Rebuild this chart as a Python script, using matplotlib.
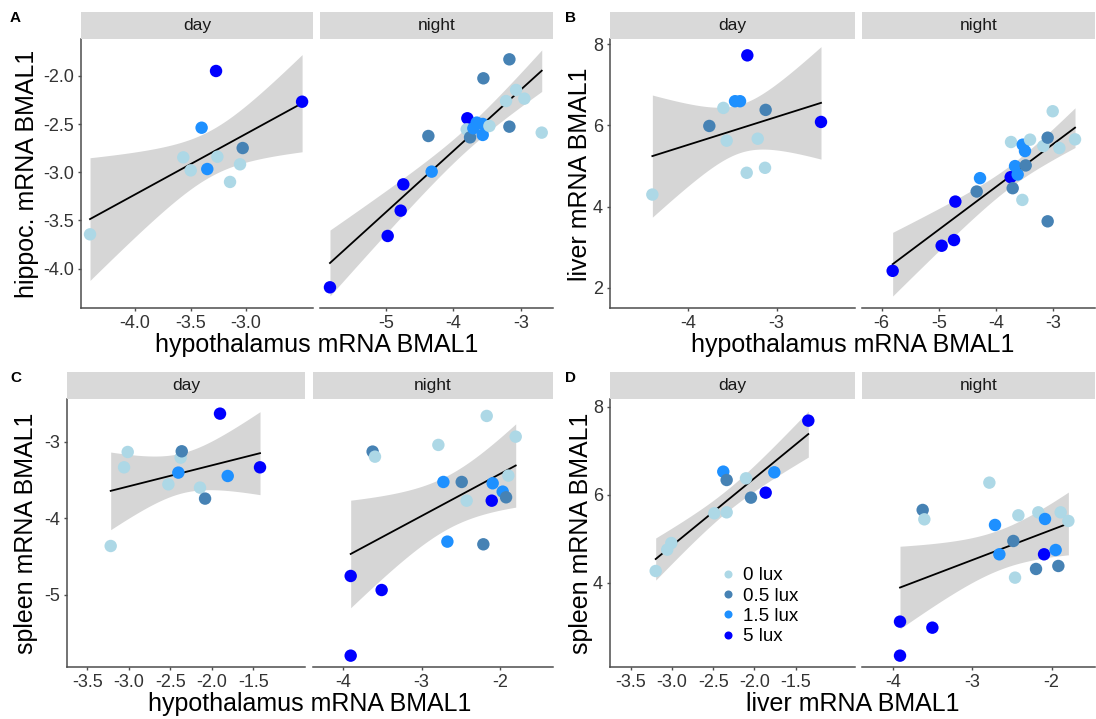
import math
import matplotlib
matplotlib.use('Agg')
import matplotlib.pyplot as plt
from matplotlib.lines import Line2D
import numpy as np

plt.rcParams['font.family'] = ['Liberation Sans', 'DejaVu Sans']

# light levels and their colours
lux_values = [0, 0.5, 1.5, 5]
lux_labels = ['0 lux', '0.5 lux', '1.5 lux', '5 lux']
lux_colors = {0: '#ADD8E6', 0.5: '#4682B4', 1.5: '#1E90FF', 5: '#0000FF'}

# ---- panel A: hypothalamus vs hippocampus ----
a_day_x = [-4.405, -3.565, -3.498, -3.40, -3.349, -3.27, -3.258, -3.144, -3.054, -3.03, -2.495]
a_day_y = [-3.644, -2.845, -2.98, -2.537, -2.966, -1.948, -2.838, -3.10, -2.917, -2.748, -2.267]
a_day_lux = [0, 0, 0, 1.5, 1.5, 5, 0, 0, 0, 0.5, 5]

a_night_x = [-5.832, -4.975, -4.782, -4.743, -4.322, -4.371, -3.792, -3.802, -3.752, -3.703, -3.653,
             -3.564, -3.564, -3.465, -3.554, -3.168, -3.168, -3.218, -3.069, -2.946, -2.688]
a_night_y = [-4.194, -3.661, -3.398, -3.125, -2.993, -2.623, -2.439, -2.554, -2.637, -2.543, -2.484,
             -2.498, -2.612, -2.519, -2.024, -1.827, -2.526, -2.26, -2.145, -2.235, -2.588]
a_night_lux = [5, 5, 5, 5, 1.5, 0.5, 5, 0, 0.5, 1.5, 1.5, 1.5, 1.5, 0, 0.5, 0.5, 0.5, 0, 0, 0, 0]

# ---- panel B: hypothalamus vs liver ----
b_day_x = [-4.397, -3.757, -3.599, -3.562, -3.468, -3.412, -3.337, -3.33, -3.213, -3.131, -3.124, -2.502]
b_day_y = [4.295, 5.987, 6.432, 5.624, 6.597, 6.597, 4.832, 7.728, 5.673, 4.955, 6.383, 6.086]
b_day_lux = [0, 0.5, 0, 0, 1.5, 1.5, 0, 5, 0, 0, 0.5, 5]

b_night_x = [-5.808, -4.952, -4.736, -4.713, -4.34, -4.282, -3.74, -3.746, -3.711, -3.67, -3.624,
             -3.542, -3.536, -3.496, -3.484, -3.408, -3.175, -3.1, -3.1, -3.012, -2.896, -2.622]
b_night_y = [2.414, 3.033, 3.173, 4.122, 4.37, 4.70, 5.591, 4.724, 4.452, 4.997, 4.79,
             4.163, 5.525, 5.368, 5.013, 5.649, 5.492, 5.698, 3.635, 6.35, 5.442, 5.657]
b_night_lux = [5, 5, 5, 5, 0.5, 1.5, 0, 5, 0.5, 1.5, 1.5, 0, 1.5, 1.5, 0.5, 0, 0, 0.5, 0.5, 0, 0, 0]

# ---- panel C: hypothalamus vs spleen ----
c_day_x = [-3.219, -3.058, -3.014, -2.524, -2.376, -2.363, -2.404, -2.143, -2.082, -1.902, -1.809, -1.42]
c_day_y = [-4.361, -3.335, -3.135, -3.557, -3.209, -3.126, -3.404, -3.6, -3.743, -2.635, -3.448, -3.335]
c_day_lux = [0, 0, 0, 0, 0, 0.5, 1.5, 0, 0.5, 5, 1.5, 5]

c_night_x = [-3.906, -3.906, -3.511, -3.626, -3.596, -2.787, -2.723, -2.672, -2.489, -2.426, -2.213,
             -2.17, -2.106, -2.094, -1.966, -1.923, -1.894, -1.8]
c_night_y = [-5.791, -4.752, -4.935, -3.13, -3.196, -3.043, -3.526, -4.304, -3.526, -3.77, -4.339,
             -2.665, -3.77, -3.543, -3.652, -3.726, -3.443, -2.935]
c_night_lux = [5, 5, 5, 0.5, 0, 0, 1.5, 1.5, 0.5, 0, 0.5, 0, 5, 1.5, 1.5, 0.5, 0, 0]

# ---- panel D: liver vs spleen ----
d_day_x = [-3.2, -3.06, -3.01, -2.488, -2.338, -2.379, -2.338, -2.103, -2.043, -1.864, -1.759, -1.346]
d_day_y = [4.265, 4.75, 4.9, 5.576, 5.598, 6.523, 6.333, 6.371, 5.932, 6.045, 6.508, 7.682]
d_day_lux = [0, 0, 0, 0, 0, 1.5, 0.5, 0, 0.5, 5, 1.5, 5]

d_night_x = [-3.908, -3.908, -3.501, -3.623, -3.602, -2.784, -2.713, -2.658, -2.482, -2.419, -2.461,
             -2.197, -2.168, -2.084, -2.096, -1.95, -1.916, -1.887, -1.79]
d_night_y = [2.341, 3.114, 2.977, 5.652, 5.439, 6.273, 5.311, 4.644, 4.947, 5.53, 4.114,
             4.311, 5.598, 5.447, 4.644, 4.742, 4.379, 5.598, 5.402]
d_night_lux = [5, 5, 5, 0.5, 0, 0, 1.5, 1.5, 0.5, 0, 0, 0.5, 0, 1.5, 5, 1.5, 0.5, 0, 0]


W, H = 1096, 719
fig = plt.figure(figsize=(W / 100, H / 100), dpi=100)
fig.patch.set_facecolor('white')

AX_COL = '#4d4d4d'
TXT_COL = '#333333'


def px_axes(x0, x1, ytop, ybot):
    return fig.add_axes([x0 / W, 1 - ybot / H, (x1 - x0) / W, (ybot - ytop) / H])


def t_quantile(p, df):
    c = math.gamma((df + 1) / 2) / (math.sqrt(df * math.pi) * math.gamma(df / 2))

    def cdf(t):
        xs = np.linspace(0, t, 2001)
        return 0.5 + np.trapezoid(c * (1 + xs ** 2 / df) ** (-(df + 1) / 2), xs)

    lo, hi = 0.0, 30.0
    for _ in range(60):
        mid = (lo + hi) / 2
        if cdf(mid) < p:
            lo = mid
        else:
            hi = mid
    return (lo + hi) / 2


def draw_facet(ax, xs, ys, lux, xlim, ylim, xticks, yticks, xfmt, yfmt, show_y):
    xs = np.array(xs)
    ys = np.array(ys)
    # linear fit with 95% confidence band
    n = len(xs)
    b, a = np.polyfit(xs, ys, 1)
    resid = ys - (a + b * xs)
    s = np.sqrt(np.sum(resid ** 2) / (n - 2))
    sxx = np.sum((xs - xs.mean()) ** 2)
    xf = np.linspace(xs.min(), xs.max(), 80)
    yf = a + b * xf
    se = s * np.sqrt(1 / n + (xf - xs.mean()) ** 2 / sxx)
    tq = t_quantile(0.975, n - 2)
    ax.fill_between(xf, yf - tq * se, yf + tq * se, color='#d6d6d6', lw=0, zorder=1)
    ax.plot(xf, yf, color='black', lw=1.3, zorder=2)
    ax.scatter(xs, ys, c=[lux_colors[l] for l in lux], s=80, lw=0, zorder=3)

    ax.set_xlim(*xlim)
    ax.set_ylim(*ylim)
    ax.set_xticks(xticks)
    ax.set_xticklabels([xfmt.format(v) for v in xticks])
    ax.set_yticks(yticks)
    ax.set_yticklabels([yfmt.format(v) for v in yticks])
    for sp in ['top', 'right']:
        ax.spines[sp].set_visible(False)
    ax.spines['bottom'].set_color(AX_COL)
    ax.spines['bottom'].set_linewidth(1.1)
    ax.spines['left'].set_color(AX_COL)
    ax.spines['left'].set_linewidth(1.1)
    ax.tick_params(axis='both', labelsize=13, colors=AX_COL, labelcolor=TXT_COL,
                   length=2, width=1, pad=3)
    if not show_y:
        ax.spines['left'].set_visible(False)
        ax.tick_params(axis='y', left=False, labelleft=False)


def draw_strip(x0, x1, ytop, ybot, label):
    sax = px_axes(x0, x1, ytop, ybot)
    sax.set_facecolor('#d9d9d9')
    for sp in sax.spines.values():
        sp.set_visible(False)
    sax.set_xticks([])
    sax.set_yticks([])
    sax.text(0.5, 0.5, label, ha='center', va='center', fontsize=12.5,
             color='#1a1a1a', transform=sax.transAxes)


# panel layout in pixels
top_row = (39.3, 308.3)
bot_row = (399.3, 667.3)
strip_h = 27.6

panels = [
    dict(letter='A', row=top_row, dx=(80.7, 313.3), nx=(320, 552.7),
         day=(a_day_x, a_day_y, a_day_lux), night=(a_night_x, a_night_y, a_night_lux),
         dxlim=(-4.489, -2.394), nxlim=(-5.98, -2.525), ylim=(-4.412, -1.619),
         dxt=[-4.0, -3.5, -3.0], nxt=[-5, -4, -3], yt=[-4.0, -3.5, -3.0, -2.5, -2.0],
         dfmt='{:.1f}', nfmt='{:.0f}', yfmt='{:.1f}',
         xlabel='hypothalamus mRNA BMAL1', ylabel='hippoc. mRNA BMAL1',
         letter_xy=(15, 18), ylab_x=27),
    dict(letter='B', row=top_row, dx=(610, 855), nx=(861.7, 1095),
         day=(b_day_x, b_day_y, b_day_lux), night=(b_night_x, b_night_y, b_night_lux),
         dxlim=(-4.873, -2.12), nxlim=(-6.349, -2.273), ylim=(1.49, 8.124),
         dxt=[-4, -3], nxt=[-6, -5, -4, -3], yt=[2, 4, 6, 8],
         dfmt='{:.0f}', nfmt='{:.0f}', yfmt='{:.0f}',
         xlabel='hypothalamus mRNA BMAL1', ylabel='liver mRNA BMAL1',
         letter_xy=(571, 18), ylab_x=580),
    dict(letter='C', row=bot_row, dx=(66.7, 305), nx=(313.3, 552.7),
         day=(c_day_x, c_day_y, c_day_lux), night=(c_night_x, c_night_y, c_night_lux),
         dxlim=(-3.749, -0.878), nxlim=(-4.383, -1.328), ylim=(-5.943, -2.448),
         dxt=[-3.5, -3.0, -2.5, -2.0, -1.5], nxt=[-4, -3, -2], yt=[-5, -4, -3],
         dfmt='{:.1f}', nfmt='{:.0f}', yfmt='{:.0f}',
         xlabel='hypothalamus mRNA BMAL1', ylabel='spleen mRNA BMAL1',
         letter_xy=(16, 378), ylab_x=26),
    dict(letter='D', row=bot_row, dx=(610, 855), nx=(861.7, 1095),
         day=(d_day_x, d_day_y, d_day_lux), night=(d_night_x, d_night_y, d_night_lux),
         dxlim=(-3.755, -0.779), nxlim=(-4.39, -1.455), ylim=(2.076, 8.167),
         dxt=[-3.5, -3.0, -2.5, -2.0, -1.5], nxt=[-4, -3, -2], yt=[4, 6, 8],
         dfmt='{:.1f}', nfmt='{:.0f}', yfmt='{:.0f}',
         xlabel='liver mRNA BMAL1', ylabel='spleen mRNA BMAL1',
         letter_xy=(571, 378), ylab_x=581),
]

legend_ax = None
for p in panels:
    ytop, ybot = p['row']
    ax_d = px_axes(p['dx'][0], p['dx'][1], ytop, ybot)
    draw_facet(ax_d, *p['day'], p['dxlim'], p['ylim'], p['dxt'], p['yt'],
               p['dfmt'], p['yfmt'], True)
    ax_n = px_axes(p['nx'][0], p['nx'][1], ytop, ybot)
    draw_facet(ax_n, *p['night'], p['nxlim'], p['ylim'], p['nxt'], p['yt'],
               p['nfmt'], p['yfmt'], False)
    draw_strip(p['dx'][0], p['dx'][1], ytop - strip_h, ytop, 'day')
    draw_strip(p['nx'][0], p['nx'][1], ytop - strip_h, ytop, 'night')

    # shared axis titles
    xc = (p['dx'][0] + p['nx'][1]) / 2
    fig.text(xc / W, 1 - (ybot + 37) / H, p['xlabel'], ha='center', va='center',
             fontsize=18, color='black')
    fig.text(p['ylab_x'] / W, 1 - ((ytop + ybot) / 2) / H, p['ylabel'], ha='center',
             va='center', rotation=90, fontsize=18, color='black')
    fig.text(p['letter_xy'][0] / W, 1 - p['letter_xy'][1] / H, p['letter'], ha='center',
             va='center', fontsize=11, fontweight='bold', color='black')
    if p['letter'] == 'D':
        legend_ax = ax_d

handles = [Line2D([0], [0], marker='o', ls='', markersize=5.8, markeredgewidth=0,
                  markerfacecolor=lux_colors[v]) for v in lux_values]
legend_ax.legend(handles, lux_labels, loc='upper left', bbox_to_anchor=(0.4498, 0.374),
                 frameon=False, fontsize=13.5, handlelength=0.8, handletextpad=0.4,
                 labelspacing=0.17, borderpad=0, borderaxespad=0)

fig.savefig('out.png', dpi=100, facecolor='white')
